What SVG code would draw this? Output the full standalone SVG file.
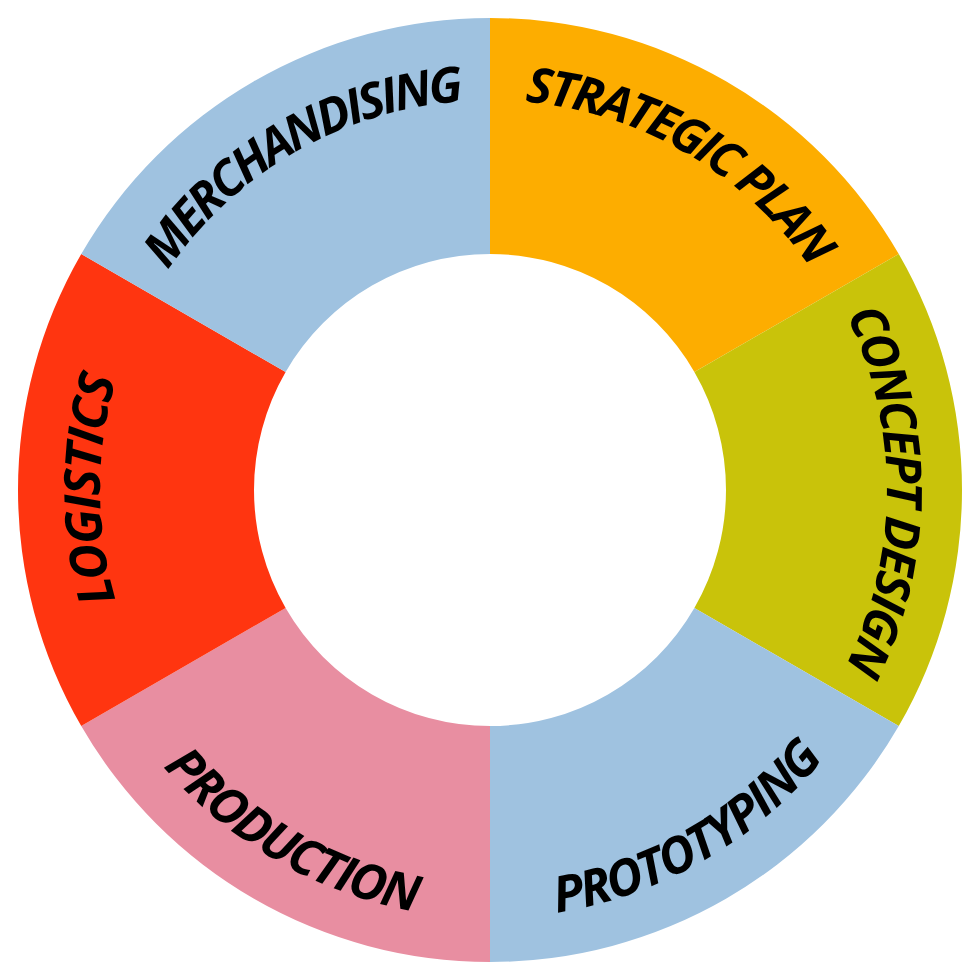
<svg xmlns="http://www.w3.org/2000/svg" xmlns:xlink="http://www.w3.org/1999/xlink" width="980" height="980" viewBox="0 0 980 980">
<style>
.lbl{font-family:"Open Sans","Liberation Sans",sans-serif;font-weight:700;font-style:italic;font-size:50px;letter-spacing:-1.8px;fill:#000;}
.tight{font-size:49px;letter-spacing:-3px;}
</style>
<defs>
<path id="pStrategic" d="M152.25,295 A390,390 0 0 1 827.75,685"/>
<path id="pMerch" d="M152.25,685 A390,390 0 0 1 827.75,295"/>
<path id="pConcept" d="M490,93 A397,397 0 0 1 490,887"/>
<path id="pLogistics" d="M490,880 A390,390 0 0 1 490,100"/>
<path id="pProto" d="M115.9,706 A432,432 0 0 0 864.1,274"/>
<path id="pProd" d="M115.9,274 A432,432 0 0 0 864.1,706"/>
</defs>
<rect width="980" height="980" fill="#fff"/>
<g id="strategic-plan">
<path d="M490,18 A472,472 0 0 1 898.76,254 L694.38,372 A236,236 0 0 0 490,254 Z" fill="#FDAD00"/>
<text class="lbl tight" text-anchor="middle"><textPath xlink:href="#pStrategic" href="#pStrategic" startOffset="50%">STRATEGIC PLAN</textPath></text>
</g>
<g id="concept-design">
<path d="M898.76,254 A472,472 0 0 1 898.76,726 L694.38,608 A236,236 0 0 0 694.38,372 Z" fill="#C9C30A"/>
<text class="lbl tight" text-anchor="middle" style="letter-spacing:-2.7px"><textPath xlink:href="#pConcept" href="#pConcept" startOffset="50%">CONCEPT DESIGN</textPath></text>
</g>
<g id="prototyping">
<path d="M898.76,726 A472,472 0 0 1 490,962 L490,726 A236,236 0 0 0 694.38,608 Z" fill="#9FC2E0"/>
<text class="lbl" text-anchor="middle"><textPath xlink:href="#pProto" href="#pProto" startOffset="50%">PROTOTYPING</textPath></text>
</g>
<g id="production">
<path d="M490,962 A472,472 0 0 1 81.24,726 L285.62,608 A236,236 0 0 0 490,726 Z" fill="#E88EA1"/>
<text class="lbl" text-anchor="middle"><textPath xlink:href="#pProd" href="#pProd" startOffset="50%">PRODUCTION</textPath></text>
</g>
<g id="logistics">
<path d="M81.24,726 A472,472 0 0 1 81.24,254 L285.62,372 A236,236 0 0 0 285.62,608 Z" fill="#FF3510"/>
<text class="lbl" text-anchor="middle"><textPath xlink:href="#pLogistics" href="#pLogistics" startOffset="50%">LOGISTICS</textPath></text>
</g>
<g id="merchandising">
<path d="M81.24,254 A472,472 0 0 1 490,18 L490,254 A236,236 0 0 0 285.62,372 Z" fill="#9FC2E0"/>
<text class="lbl tight" text-anchor="middle" style="letter-spacing:-3.3px"><textPath xlink:href="#pMerch" href="#pMerch" startOffset="50%">MERCHANDISING</textPath></text>
</g>
<g id="connectors"></g>
</svg>
